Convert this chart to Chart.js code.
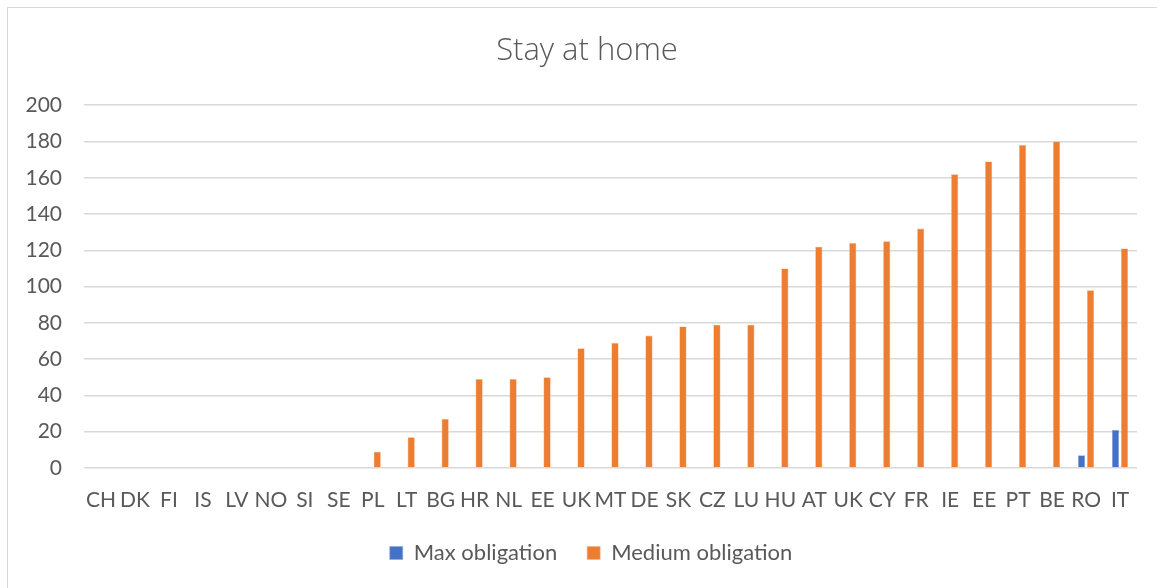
<!DOCTYPE html>
<html>
<head>
<meta charset="utf-8">
<script src="https://cdn.jsdelivr.net/npm/chart.js@4.4.1/dist/chart.umd.min.js"></script>
<style>
  html, body { margin: 0; padding: 0; background: #ffffff; }
  #wrap { position: relative; width: 1157px; height: 588px; overflow: hidden; }
  #frame { position: absolute; left: 7px; top: 7px; width: 1200px; height: 640px;
           border: 1.5px solid #d9d9d9; box-sizing: border-box; }
  canvas { position: absolute; left: 0; top: 0; }
</style>
</head>
<body>
<div id="wrap">
  <div id="frame"></div>
  <canvas id="c" width="1157" height="588"></canvas>
</div>
<script>
// Country codes along the x axis (UK and EE appear twice in the source table)
const countries = ['CH','DK','FI','IS','LV','NO','SI','SE','PL','LT','BG','HR','NL','EE','UK','MT',
                   'DE','SK','CZ','LU','HU','AT','UK','CY','FR','IE','EE','PT','BE','RO','IT'];

// Days under each level of stay-at-home obligation
const maxObligation = [0,0,0,0,0,0,0,0,0,0,0,0,0,0,0,0,
                       0,0,0,0,0,0,0,0,0,0,0,0,0,7,21];
const mediumObligation = [0,0,0,0,0,0,0,0,9,17,27,49,49,50,66,69,
                          73,78,79,79,110,122,124,125,132,162,169,178,180,98,121];

const yTicks = [0,20,40,60,80,100,120,140,160,180,200];

const textColor = '#595959';
const baseFont = 'Lato, "Open Sans", "Liberation Sans", sans-serif';

// Centre the title and legend on the framed panel rather than on the canvas
const recentre = {
  id: 'recentre',
  afterLayout(chart) {
    if (chart.titleBlock) { chart.titleBlock.left = 37; }
    if (chart.legend) { chart.legend.left = 45; }
  }
};

new Chart(document.getElementById('c'), {
  type: 'bar',
  data: {
    labels: countries,
    datasets: [
      { label: 'Max obligation', data: maxObligation, backgroundColor: '#4472C4',
        borderColor: '#8faadc', borderWidth: 0.6, borderSkipped: 'bottom' },
      { label: 'Medium obligation', data: mediumObligation, backgroundColor: '#ED7D31',
        borderColor: '#f4b183', borderWidth: 0.6, borderSkipped: 'bottom' }
    ]
  },
  plugins: [recentre],
  options: {
    responsive: false,
    animation: false,
    datasets: { bar: { categoryPercentage: 0.53, barPercentage: 0.8 } },
    layout: { padding: { left: 0, right: 20, top: 16, bottom: 14 } },
    plugins: {
      title: {
        display: true,
        text: 'Stay at home',
        color: textColor,
        font: { family: '"Open Sans", Lato, sans-serif', size: 31, weight: 300, lineHeight: 1.2 },
        padding: { top: 17, bottom: 35 }
      },
      legend: {
        position: 'bottom',
        labels: {
          color: textColor,
          font: { family: baseFont, size: 22 },
          boxWidth: 13,
          boxHeight: 13,
          padding: 30
        }
      },
      tooltip: { enabled: false }
    },
    scales: {
      x: {
        grid: { display: false, drawTicks: false },
        border: { display: false },
        ticks: { color: textColor, font: { family: baseFont, size: 21 }, padding: 20,
                 maxRotation: 0, autoSkip: false },
        afterFit: (scale) => { scale.height = 44; }
      },
      y: {
        min: 0,
        max: 200,
        afterBuildTicks: (scale) => { scale.ticks = yTicks.map(v => ({ value: v })); },
        grid: { color: '#d9d9d9', lineWidth: 1.5, drawTicks: false },
        border: { display: false },
        ticks: { color: textColor, font: { family: baseFont, size: 21 }, padding: 22 },
        afterFit: (scale) => { scale.width = 84; }
      }
    }
  }
});
</script>
</body>
</html>
